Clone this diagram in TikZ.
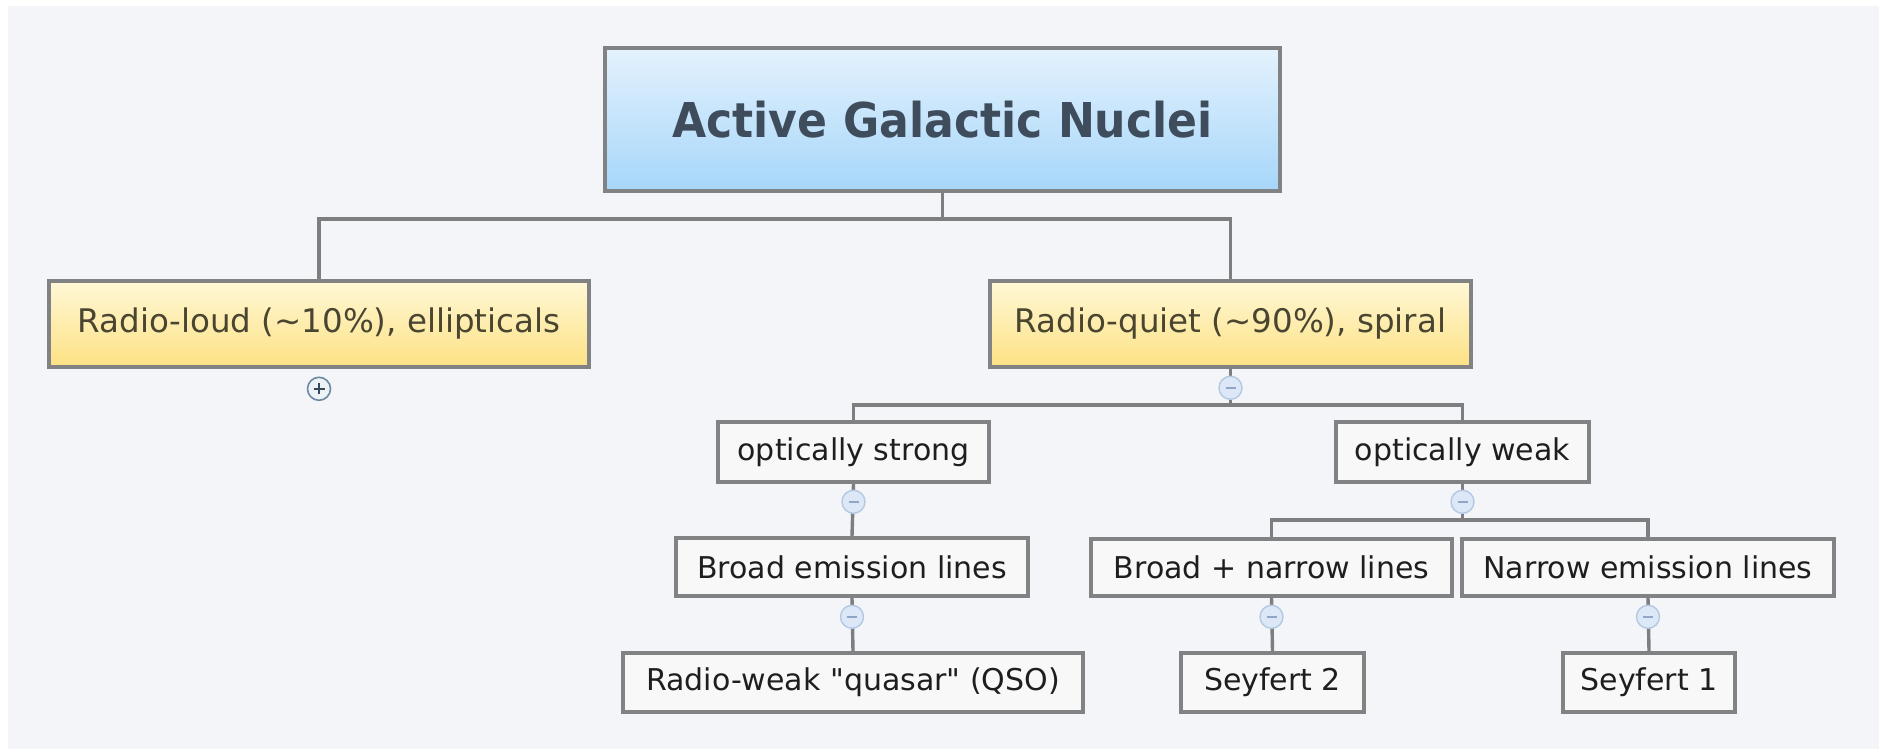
\documentclass[tikz,border=0pt]{standalone}
\usepackage{fontspec}
\setmainfont{DejaVu Sans}[Ligatures=TeXOff]
\usetikzlibrary{calc}

\definecolor{bgc}{HTML}{F3F5F9}
\definecolor{boxline}{HTML}{808284}
\definecolor{wire}{HTML}{7C7E80}
\definecolor{rootTop}{HTML}{E4F2FD}
\definecolor{rootBot}{HTML}{A6D6FA}
\definecolor{rootText}{HTML}{3E4C5C}
\definecolor{ylTop}{HTML}{FFF8D6}
\definecolor{ylBot}{HTML}{FCE184}
\definecolor{ylText}{HTML}{4A4530}
\definecolor{wtFill}{HTML}{F8F8F8}
\definecolor{wtText}{HTML}{1E1E1E}
\definecolor{togFill}{HTML}{DCE8F7}
\definecolor{togLine}{HTML}{B4C8E2}
\definecolor{togSign}{HTML}{8FA6C4}
\definecolor{plusFill}{HTML}{EDF2F6}
\definecolor{plusLine}{HTML}{6E8AA2}
\definecolor{plusSign}{HTML}{34495C}

\newcommand{\tld}{\char"7E\relax}
\newcommand{\dq}{\char"22\relax}

\tikzset{
  basebox/.style={draw=boxline, line width=3.6pt, inner sep=0pt, align=center},
  rootbox/.style={basebox, top color=rootTop, bottom color=rootBot, text=rootText,
    font=\fontsize{48}{56}\selectfont\bfseries},
  yellowbox/.style={basebox, top color=ylTop, bottom color=ylBot, text=ylText,
    font=\fontsize{32.5}{38}\selectfont},
  whitebox/.style={basebox, fill=wtFill, text=wtText, font=\fontsize{30}{36}\selectfont},
  conn/.style={draw=wire, line width=3.4pt},
  minusknob/.style={circle, draw=togLine, fill=togFill, line width=1.4pt,
    minimum size=23pt, inner sep=0pt,
    path picture={\draw[togSign, line width=1.8pt]
      ([xshift=-5pt]path picture bounding box.center) --
      ([xshift=5pt]path picture bounding box.center);}},
  plusknob/.style={circle, draw=plusLine, fill=plusFill, line width=1.6pt,
    minimum size=23pt, inner sep=0pt,
    path picture={\draw[plusSign, line width=1.8pt]
      ([xshift=-5.5pt]path picture bounding box.center) --
      ([xshift=5.5pt]path picture bounding box.center)
      ([yshift=-5.5pt]path picture bounding box.center) --
      ([yshift=5.5pt]path picture bounding box.center);}}
}

\begin{document}
\begin{tikzpicture}[x=1pt,y=-1pt]
\useasboundingbox (0,0) rectangle (1879,749);
\fill[white] (0,0) rectangle (1879,749);
\fill[bgc] (8,6) rectangle (1879,749);

% boxes
\node[rootbox, minimum width=675pt, minimum height=143pt] (root) at (942.5,119.5)
  {\scalebox{0.92}[1]{Active Galactic Nuclei}};
\node[yellowbox, minimum width=540pt, minimum height=86pt] (loud) at (319,324)
  {Radio-loud (\tld10\%), ellipticals};
\node[yellowbox, minimum width=481pt, minimum height=86pt] (quiet) at (1230.5,324)
  {Radio-quiet (\tld90\%), spiral};
\node[whitebox, minimum width=271pt, minimum height=60pt] (ostrong) at (853.5,452)
  {optically strong};
\node[whitebox, minimum width=253pt, minimum height=60pt] (oweak) at (1462.5,452)
  {optically weak};
\node[whitebox, minimum width=352pt, minimum height=58pt] (broad) at (852,567)
  {Broad emission lines};
\node[whitebox, minimum width=361pt, minimum height=57pt] (bnarrow) at (1271.5,567.5)
  {Broad + narrow lines};
\node[whitebox, minimum width=372pt, minimum height=57pt] (narrow) at (1648,567.5)
  {Narrow emission lines};
\node[whitebox, minimum width=460pt, minimum height=59pt] (qso) at (853,682.5)
  {Radio-weak \dq quasar\dq\ (QSO)};
\node[whitebox, minimum width=183pt, minimum height=59pt] (sey2) at (1272.5,682.5)
  {Seyfert 2};
\node[whitebox, minimum width=172pt, minimum height=59pt] (sey1) at (1649,682.5)
  {Seyfert 1};

% connectors
\draw[conn] (root.south) -- ++(0,26) -| (loud.north);
\draw[conn] (root.south) -- ++(0,26) -| (quiet.north);
\draw[conn] (quiet.south) -- ++(0,36) -| (ostrong.north);
\draw[conn] (quiet.south) -- ++(0,36) -| (oweak.north);
\draw[conn] (ostrong.south) -- (broad.north);
\draw[conn] (broad.south) -- (qso.north);
\draw[conn] (oweak.south) -- ++(0,36) -| (bnarrow.north);
\draw[conn] (oweak.south) -- ++(0,36) -| (narrow.north);
\draw[conn] (bnarrow.south) -- (sey2.north);
\draw[conn] (narrow.south) -- (sey1.north);

% collapse / expand knobs
\node[plusknob]  (loudknob)    at ($(loud.south)+(0,20)$) {};
\node[minusknob] (quietknob)   at ($(quiet.south)+(0,19)$) {};
\node[minusknob] (ostrongknob) at ($(ostrong.south)+(0,18)$) {};
\node[minusknob] (oweakknob)   at ($(oweak.south)+(0,18)$) {};
\node[minusknob] (broadknob)   at ($(broad.south)+(0,19)$) {};
\node[minusknob] (bnarrowknob) at ($(bnarrow.south)+(0,19)$) {};
\node[minusknob] (narrowknob)  at ($(narrow.south)+(0,19)$) {};
\end{tikzpicture}
\end{document}
